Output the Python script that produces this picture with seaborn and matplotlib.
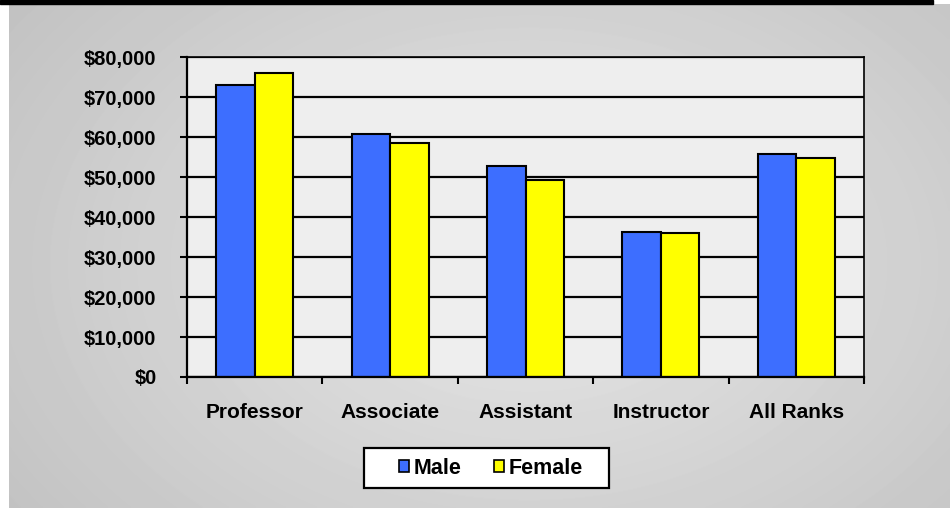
import numpy as np
import pandas as pd
import seaborn as sns
import matplotlib.pyplot as plt
from matplotlib.patches import Patch, Rectangle
from matplotlib.ticker import FuncFormatter, MultipleLocator, FixedLocator

# data
ranks = ['Professor', 'Associate', 'Assistant', 'Instructor', 'All Ranks']
male = [73000, 60800, 52700, 36300, 55800]
female = [76000, 58400, 49200, 36100, 54800]
genders = ['Male', 'Female']
colors = ['#3d6eff', '#ffff00']

df = pd.DataFrame({
    'rank': ranks * 2,
    'gender': ['Male'] * len(ranks) + ['Female'] * len(ranks),
    'salary': male + female,
})

sns.set_theme(style='white')
plt.rcParams['font.family'] = ['Liberation Sans', 'DejaVu Sans']
plt.rcParams['font.weight'] = 'bold'
plt.rcParams['text.color'] = 'black'

fig = plt.figure(figsize=(9.5, 5.08), dpi=100, facecolor='white')

# gray radial backdrop
bg = fig.add_axes([9 / 950, 0, 941 / 950, 504 / 508], zorder=0)
h, w = 504, 941
yy, xx = np.mgrid[0:h, 0:w]
r = np.sqrt(((xx - 520) / 620) ** 2 + ((yy - 260) / 430) ** 2)
img = np.clip(0.905 - 0.14 * r, 0.75, 0.92)
bg.imshow(img, cmap='gray', vmin=0, vmax=1, aspect='auto', interpolation='bilinear')
bg.axis('off')
fig.patches.append(Rectangle((0, 504 / 508), 933 / 950, 4 / 508,
                             transform=fig.transFigure, color='black', zorder=1))

ax = fig.add_axes([187 / 950, 1 - 377 / 508, (864 - 187) / 950, (377 - 57) / 508], zorder=2)
ax.set_facecolor('#eeeeee')

sns.barplot(data=df, x='rank', y='salary', hue='gender', hue_order=genders,
            palette=colors, saturation=1, width=0.57, gap=0, errorbar=None,
            edgecolor='black', linewidth=1.5, legend=False, ax=ax)

ax.set_ylim(0, 80000)
ax.set_xlim(-0.5, len(ranks) - 0.5)
ax.yaxis.set_major_locator(MultipleLocator(10000))
ax.yaxis.set_major_formatter(FuncFormatter(lambda v, p: '${:,.0f}'.format(v)))
ax.yaxis.grid(True, color='black', linewidth=1.6)
ax.set_axisbelow(True)
ax.set_xlabel('')
ax.set_ylabel('')

ax.xaxis.set_minor_locator(FixedLocator(np.arange(-0.5, len(ranks), 1.0)))
ax.tick_params(axis='x', which='major', length=0, pad=19, labelsize=15)
ax.tick_params(axis='x', which='minor', direction='out', length=5, width=1.5,
               color='black', bottom=True)
ax.tick_params(axis='y', direction='out', length=5, width=1.5, color='black',
               left=True, pad=17, labelsize=14.5)
for lab in ax.get_xticklabels() + ax.get_yticklabels():
    lab.set_fontweight('bold')
    lab.set_color('black')

for side in ['left', 'bottom']:
    ax.spines[side].set_color('black')
    ax.spines[side].set_linewidth(1.6)
for side in ['top', 'right']:
    ax.spines[side].set_color('black')
    ax.spines[side].set_linewidth(1.2)

# legend box drawn by hand so its padding matches the reference
fig.patches.append(Rectangle((364 / 950, 1 - 488 / 508), 245 / 950, 40 / 508,
                             transform=fig.transFigure, facecolor='white',
                             edgecolor='black', linewidth=1.6, zorder=3))
handles = [Patch(facecolor=c, edgecolor='black', linewidth=1.2, label=g)
           for g, c in zip(genders, colors)]
leg = fig.legend(handles=handles, loc='center', bbox_to_anchor=(491 / 950, 1 - 468 / 508),
                 ncol=2, frameon=False, labelcolor='black',
                 handlelength=0.47, handleheight=0.47, handletextpad=0.2,
                 columnspacing=1.5, borderpad=0, borderaxespad=0,
                 prop={'weight': 'bold', 'size': 15.5})
leg.set_zorder(4)

fig.savefig('out.png', dpi=100, facecolor=fig.get_facecolor())
